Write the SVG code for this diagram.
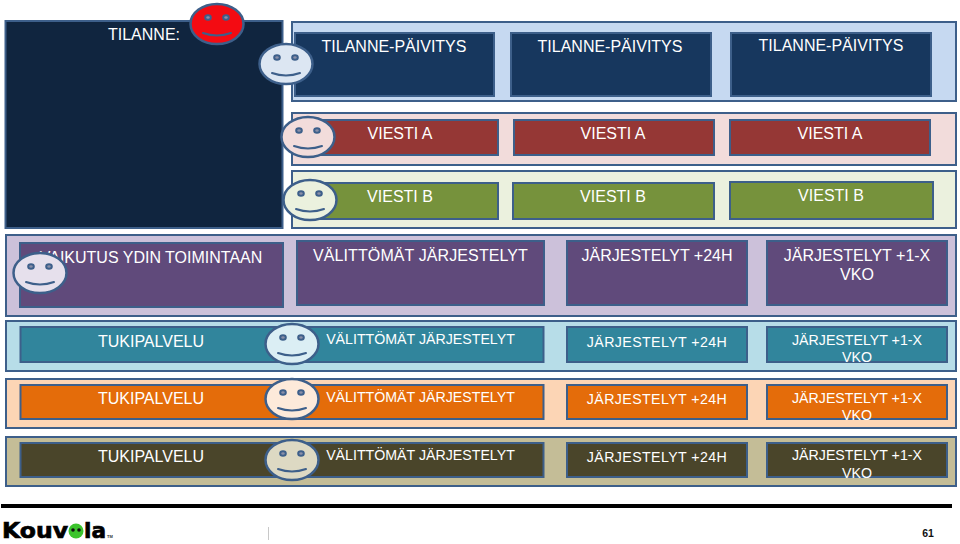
<svg xmlns="http://www.w3.org/2000/svg" width="960" height="544" viewBox="0 0 960 544">
<defs>
<style>
text{font-family:"Liberation Sans",Arial,sans-serif;fill:#fff;text-anchor:middle;font-size:16px}
.s{font-size:14.2px}
.h{font-size:14.2px;letter-spacing:.4px}
.b{stroke:#3d5f8a;stroke-width:2}
.fb{stroke:#3d5f8a;stroke-width:2.500}
.f{fill:none;stroke:#3d5f8a;stroke-width:2;stroke-linecap:round}
.e{fill:#8a8fa8;stroke:#3d5f8a;stroke-width:2}
.logo{text-anchor:start;fill:#000;font-size:22px;font-weight:700;font-family:"DejaVu Sans",sans-serif;stroke:#000;stroke-width:.7}
</style>
<g id="face">
<ellipse class="fb" cx="0" cy="0" rx="26.500" ry="20" style="fill:inherit"/>
<ellipse class="e" cx="-9" cy="-6.500" rx="2.800" ry="2.200"/>
<ellipse class="e" cx="9" cy="-6.500" rx="2.800" ry="2.200"/>
<path class="f" d="M-14 9Q0 14 14 9"/>
</g>
</defs>
<rect width="960" height="544" fill="#fff"/>
<g id="tilanne">
<rect class="b" x="5.500" y="21" width="277" height="207" fill="#10253f"/>
<text x="144" y="40">TILANNE:</text>
</g>
<g id="band-paivitys">
<rect class="b" x="292" y="22" width="664" height="79" fill="#c6d9f1"/>
<rect class="b" x="295" y="33" width="199" height="63" fill="#17375e"/>
<rect class="b" x="511" y="33" width="200" height="63" fill="#17375e"/>
<rect class="b" x="731" y="33" width="200" height="63" fill="#17375e"/>
<text x="394" y="52">TILANNE-PÄIVITYS</text>
<text x="610" y="52">TILANNE-PÄIVITYS</text>
<text x="831" y="51">TILANNE-PÄIVITYS</text>
</g>
<g id="band-viesti-a">
<rect class="b" x="292" y="113" width="664" height="52" fill="#f2dcdb"/>
<rect class="b" x="310" y="120" width="188" height="35" fill="#953735"/>
<rect class="b" x="514" y="120" width="200" height="35" fill="#953735"/>
<rect class="b" x="730" y="120" width="200" height="35" fill="#953735"/>
<text x="400" y="139">VIESTI A</text>
<text x="613" y="139">VIESTI A</text>
<text x="830" y="139">VIESTI A</text>
</g>
<g id="band-viesti-b">
<rect class="b" x="292" y="171" width="664" height="57" fill="#ebf1de"/>
<rect class="b" x="310" y="183" width="188" height="36" fill="#76923c"/>
<rect class="b" x="513" y="183" width="201" height="36" fill="#76923c"/>
<rect class="b" x="730" y="182" width="203" height="37" fill="#76923c"/>
<text x="400" y="202">VIESTI B</text>
<text x="613" y="202">VIESTI B</text>
<text x="831" y="201">VIESTI B</text>
</g>
<g id="band-ydin">
<rect class="b" x="6" y="235" width="950" height="81" fill="#ccc1da"/>
<rect class="b" x="20" y="243" width="263" height="64" fill="#604a7b"/>
<rect class="b" x="297" y="241" width="247" height="64" fill="#604a7b"/>
<rect class="b" x="567" y="241" width="180" height="64" fill="#604a7b"/>
<rect class="b" x="767" y="241" width="180" height="64" fill="#604a7b"/>
<text x="151" y="263">VAIKUTUS YDIN TOIMINTAAN</text>
<text x="420.500" y="261" style="letter-spacing:.1px">VÄLITTÖMÄT JÄRJESTELYT</text>
<text x="657" y="261">JÄRJESTELYT +24H</text>
<text x="857" y="261">JÄRJESTELYT +1-X</text>
<text x="857" y="280">VKO</text>
</g>
<g id="band-tuki-1">
<rect class="b" x="6" y="321" width="950" height="50" fill="#b7dde8"/>
<rect class="b" x="20.500" y="327" width="523" height="35" fill="#31859c"/>
<rect class="b" x="567" y="327" width="180" height="35" fill="#31859c"/>
<rect class="b" x="767" y="327" width="180" height="35" fill="#31859c"/>
<text x="151" y="347">TUKIPALVELU</text>
<text class="s" x="420.500" y="344">VÄLITTÖMÄT JÄRJESTELYT</text>
<text class="h" x="657" y="347">JÄRJESTELYT +24H</text>
<text class="s" x="857" y="345">JÄRJESTELYT +1-X</text>
<text class="s" x="857" y="362">VKO</text>
</g>
<g id="band-tuki-2">
<rect class="b" x="6" y="379" width="950" height="49" fill="#fcd5b5"/>
<rect class="b" x="20.500" y="385" width="523" height="34" fill="#e46c0a"/>
<rect class="b" x="567" y="385" width="180" height="34" fill="#e46c0a"/>
<rect class="b" x="767" y="385" width="180" height="34" fill="#e46c0a"/>
<text x="151" y="404">TUKIPALVELU</text>
<text class="s" x="420.500" y="402">VÄLITTÖMÄT JÄRJESTELYT</text>
<text class="h" x="657" y="404">JÄRJESTELYT +24H</text>
<text class="s" x="857" y="403">JÄRJESTELYT +1-X</text>
<text class="s" x="857" y="420">VKO</text>
</g>
<g id="band-tuki-3">
<rect class="b" x="6" y="437" width="950" height="49" fill="#c4bd97"/>
<rect class="b" x="20.500" y="443" width="523" height="34" fill="#4a452a"/>
<rect class="b" x="567" y="443" width="180" height="34" fill="#4a452a"/>
<rect class="b" x="767" y="443" width="180" height="34" fill="#4a452a"/>
<text x="151" y="462">TUKIPALVELU</text>
<text class="s" x="420.500" y="460">VÄLITTÖMÄT JÄRJESTELYT</text>
<text class="h" x="657" y="462">JÄRJESTELYT +24H</text>
<text class="s" x="857" y="460">JÄRJESTELYT +1-X</text>
<text class="s" x="857" y="478">VKO</text>
</g>
<g id="faces">
<use href="#face" x="217" y="24" fill="#f40b12"/>
<use href="#face" x="286" y="64" fill="#dce6f2"/>
<use href="#face" x="308" y="137" fill="#f2dcdb"/>
<use href="#face" x="310" y="200" fill="#ebf1de"/>
<use href="#face" x="40" y="273" fill="#e6e0ec"/>
<use href="#face" x="292" y="344" fill="#dbeef4"/>
<use href="#face" x="292" y="399" fill="#fdeada"/>
<use href="#face" x="292" y="460" fill="#ddd9c3"/>
</g>
<g id="footer">
<rect x="1" y="504" width="951" height="4" fill="#000"/>
<rect x="268" y="527" width="1" height="13" fill="#c8c8c8"/>
<text class="logo" x="2" y="538" textLength="66" lengthAdjust="spacingAndGlyphs">Kouv</text>
<circle cx="76" cy="531" r="7.500" fill="#3cc42c"/>
<circle cx="73" cy="530" r="1.800" fill="#111"/>
<circle cx="79" cy="530" r="1.800" fill="#111"/>
<text class="logo" x="84" y="538" textLength="22" lengthAdjust="spacingAndGlyphs">la</text>
<text x="107" y="538" style="text-anchor:start;fill:#333;font-size:4px;font-weight:700">TM</text>
<text x="928" y="537" style="fill:#111;font-size:10.500px;font-weight:700">61</text>
</g>
</svg>
